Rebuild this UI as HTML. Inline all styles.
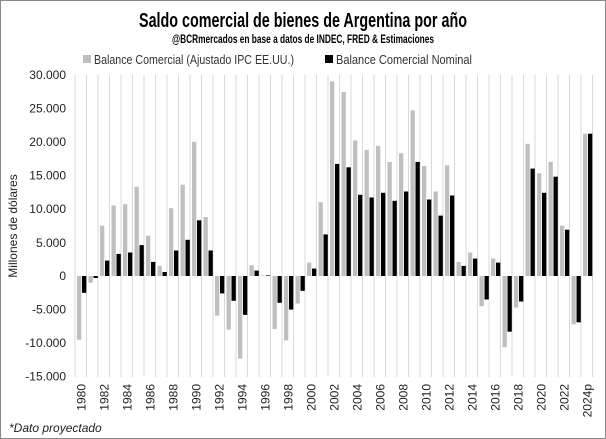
<!DOCTYPE html>
<html><head><meta charset="utf-8"><style>
html,body{margin:0;padding:0;background:#fff;}
svg{display:block;font-family:"Liberation Sans",sans-serif;}
</style></head><body>
<svg width="606" height="439" viewBox="0 0 606 439" xmlns="http://www.w3.org/2000/svg">
<rect x="0.5" y="0.5" width="605" height="438" fill="#fff" stroke="#888"/>
<text x="303" y="27" text-anchor="middle" font-family="Liberation Sans Narrow, Liberation Sans, sans-serif" font-weight="bold" font-size="20" textLength="328" lengthAdjust="spacingAndGlyphs">Saldo comercial de bienes de Argentina por año</text>
<text x="303" y="43" text-anchor="middle" font-family="Liberation Sans Narrow, Liberation Sans, sans-serif" font-weight="bold" font-size="11.5" textLength="262" lengthAdjust="spacingAndGlyphs">@BCRmercados en base a datos de INDEC, FRED &amp; Estimaciones</text>
<rect x="83" y="55" width="8" height="8" fill="#bfbfbf"/>
<text x="94" y="64" font-size="13" fill="#333" textLength="200" lengthAdjust="spacingAndGlyphs">Balance Comercial (Ajustado IPC EE.UU.)</text>
<rect x="325" y="55" width="8" height="8" fill="#000"/>
<text x="336" y="64" font-size="13" fill="#333" textLength="136" lengthAdjust="spacingAndGlyphs">Balance Comercial Nominal</text>
<g stroke="#d9d9d9" stroke-width="1">
<path d="M75 75V377M86.5 75V377M98 75V377M109.5 75V377M121 75V377M132.5 75V377M144 75V377M155.5 75V377M167 75V377M178.5 75V377M190 75V377M201.5 75V377M213 75V377M224.5 75V377M236 75V377M247.5 75V377M259 75V377M270.5 75V377M282 75V377M293.5 75V377M305 75V377M316.5 75V377M328 75V377M339.5 75V377M351 75V377M362.5 75V377M374 75V377M385.5 75V377M397 75V377M408.5 75V377M420 75V377M431.5 75V377M443 75V377M454.5 75V377M466 75V377M477.5 75V377M489 75V377M500.5 75V377M512 75V377M523.5 75V377M535 75V377M546.5 75V377M558 75V377M569.5 75V377M581 75V377M592.5 75V377"/>
</g>
<g font-size="12" fill="#222" text-anchor="end">
<text x="66" y="79">30.000</text><text x="66" y="112.6">25.000</text><text x="66" y="146.1">20.000</text><text x="66" y="179.7">15.000</text><text x="66" y="213.2">10.000</text><text x="66" y="246.8">5.000</text><text x="66" y="280">0</text><text x="66" y="313.6">-5.000</text><text x="66" y="347.1">-10.000</text><text x="66" y="380.7">-15.000</text>
</g>
<text transform="translate(17,226) rotate(-90)" text-anchor="middle" font-size="12" fill="#222">Millones de dólares</text>
<g>
<g transform="translate(77,276)"><rect x="0" y="0" width="4.3" height="63.7" fill="#bfbfbf"/><rect x="5" y="0" width="4.3" height="16.8"/></g>
<g transform="translate(88.5,276)"><rect x="0" y="0" width="4.3" height="6.7" fill="#bfbfbf"/><rect x="5" y="0" width="4.3" height="2"/></g>
<g transform="translate(100,276)"><rect x="0" y="-50.3" width="4.3" height="50.3" fill="#bfbfbf"/><rect x="5" y="-15.4" width="4.3" height="15.4"/></g>
<g transform="translate(111.5,276)"><rect x="0" y="-70.5" width="4.3" height="70.5" fill="#bfbfbf"/><rect x="5" y="-22.1" width="4.3" height="22.1"/></g>
<g transform="translate(123,276)"><rect x="0" y="-71.8" width="4.3" height="71.8" fill="#bfbfbf"/><rect x="5" y="-23.5" width="4.3" height="23.5"/></g>
<g transform="translate(134.5,276)"><rect x="0" y="-89.2" width="4.3" height="89.2" fill="#bfbfbf"/><rect x="5" y="-30.9" width="4.3" height="30.9"/></g>
<g transform="translate(146,276)"><rect x="0" y="-40.3" width="4.3" height="40.3" fill="#bfbfbf"/><rect x="5" y="-14.1" width="4.3" height="14.1"/></g>
<g transform="translate(157.5,276)"><rect x="0" y="-10.1" width="4.3" height="10.1" fill="#bfbfbf"/><rect x="5" y="-4" width="4.3" height="4"/></g>
<g transform="translate(169,276)"><rect x="0" y="-67.8" width="4.3" height="67.8" fill="#bfbfbf"/><rect x="5" y="-25.5" width="4.3" height="25.5"/></g>
<g transform="translate(180.5,276)"><rect x="0" y="-91.3" width="4.3" height="91.3" fill="#bfbfbf"/><rect x="5" y="-36.2" width="4.3" height="36.2"/></g>
<g transform="translate(192,276)"><rect x="0" y="-134.2" width="4.3" height="134.2" fill="#bfbfbf"/><rect x="5" y="-55.7" width="4.3" height="55.7"/></g>
<g transform="translate(203.5,276)"><rect x="0" y="-59" width="4.3" height="59" fill="#bfbfbf"/><rect x="5" y="-25.5" width="4.3" height="25.5"/></g>
<g transform="translate(215,276)"><rect x="0" y="0" width="4.3" height="39.6" fill="#bfbfbf"/><rect x="5" y="0" width="4.3" height="17.4"/></g>
<g transform="translate(226.5,276)"><rect x="0" y="0" width="4.3" height="53.7" fill="#bfbfbf"/><rect x="5" y="0" width="4.3" height="24.8"/></g>
<g transform="translate(238,276)"><rect x="0" y="0" width="4.3" height="82.5" fill="#bfbfbf"/><rect x="5" y="0" width="4.3" height="38.9"/></g>
<g transform="translate(249.5,276)"><rect x="0" y="-10.7" width="4.3" height="10.7" fill="#bfbfbf"/><rect x="5" y="-5.4" width="4.3" height="5.4"/></g>
<g transform="translate(261,276)"><rect x="0" y="-0.7" width="4.3" height="0.7" fill="#bfbfbf"/><rect x="5" y="-0.6" width="4.3" height="0.6"/></g>
<g transform="translate(272.5,276)"><rect x="0" y="0" width="4.3" height="53" fill="#bfbfbf"/><rect x="5" y="0" width="4.3" height="26.8"/></g>
<g transform="translate(284,276)"><rect x="0" y="0" width="4.3" height="64.4" fill="#bfbfbf"/><rect x="5" y="0" width="4.3" height="33.6"/></g>
<g transform="translate(295.5,276)"><rect x="0" y="0" width="4.3" height="27.5" fill="#bfbfbf"/><rect x="5" y="0" width="4.3" height="14.8"/></g>
<g transform="translate(307,276)"><rect x="0" y="-13.4" width="4.3" height="13.4" fill="#bfbfbf"/><rect x="5" y="-7.4" width="4.3" height="7.4"/></g>
<g transform="translate(318.5,276)"><rect x="0" y="-73.8" width="4.3" height="73.8" fill="#bfbfbf"/><rect x="5" y="-41.6" width="4.3" height="41.6"/></g>
<g transform="translate(330,276)"><rect x="0" y="-194.6" width="4.3" height="194.6" fill="#bfbfbf"/><rect x="5" y="-112.1" width="4.3" height="112.1"/></g>
<g transform="translate(341.5,276)"><rect x="0" y="-183.9" width="4.3" height="183.9" fill="#bfbfbf"/><rect x="5" y="-108.7" width="4.3" height="108.7"/></g>
<g transform="translate(353,276)"><rect x="0" y="-135.5" width="4.3" height="135.5" fill="#bfbfbf"/><rect x="5" y="-81.2" width="4.3" height="81.2"/></g>
<g transform="translate(364.5,276)"><rect x="0" y="-126.1" width="4.3" height="126.1" fill="#bfbfbf"/><rect x="5" y="-78.5" width="4.3" height="78.5"/></g>
<g transform="translate(376,276)"><rect x="0" y="-130.2" width="4.3" height="130.2" fill="#bfbfbf"/><rect x="5" y="-83.2" width="4.3" height="83.2"/></g>
<g transform="translate(387.5,276)"><rect x="0" y="-114.1" width="4.3" height="114.1" fill="#bfbfbf"/><rect x="5" y="-75.2" width="4.3" height="75.2"/></g>
<g transform="translate(399,276)"><rect x="0" y="-122.8" width="4.3" height="122.8" fill="#bfbfbf"/><rect x="5" y="-84.5" width="4.3" height="84.5"/></g>
<g transform="translate(410.5,276)"><rect x="0" y="-165.7" width="4.3" height="165.7" fill="#bfbfbf"/><rect x="5" y="-114.1" width="4.3" height="114.1"/></g>
<g transform="translate(422,276)"><rect x="0" y="-110" width="4.3" height="110" fill="#bfbfbf"/><rect x="5" y="-76.5" width="4.3" height="76.5"/></g>
<g transform="translate(433.5,276)"><rect x="0" y="-84.5" width="4.3" height="84.5" fill="#bfbfbf"/><rect x="5" y="-60.4" width="4.3" height="60.4"/></g>
<g transform="translate(445,276)"><rect x="0" y="-110.7" width="4.3" height="110.7" fill="#bfbfbf"/><rect x="5" y="-80.5" width="4.3" height="80.5"/></g>
<g transform="translate(456.5,276)"><rect x="0" y="-14.1" width="4.3" height="14.1" fill="#bfbfbf"/><rect x="5" y="-10.1" width="4.3" height="10.1"/></g>
<g transform="translate(468,276)"><rect x="0" y="-23.5" width="4.3" height="23.5" fill="#bfbfbf"/><rect x="5" y="-17.4" width="4.3" height="17.4"/></g>
<g transform="translate(479.5,276)"><rect x="0" y="0" width="4.3" height="30.2" fill="#bfbfbf"/><rect x="5" y="0" width="4.3" height="23.5"/></g>
<g transform="translate(491,276)"><rect x="0" y="-17.4" width="4.3" height="17.4" fill="#bfbfbf"/><rect x="5" y="-13.4" width="4.3" height="13.4"/></g>
<g transform="translate(502.5,276)"><rect x="0" y="0" width="4.3" height="71.1" fill="#bfbfbf"/><rect x="5" y="0" width="4.3" height="55.7"/></g>
<g transform="translate(514,276)"><rect x="0" y="0" width="4.3" height="31.5" fill="#bfbfbf"/><rect x="5" y="0" width="4.3" height="25.5"/></g>
<g transform="translate(525.5,276)"><rect x="0" y="-132.2" width="4.3" height="132.2" fill="#bfbfbf"/><rect x="5" y="-107.4" width="4.3" height="107.4"/></g>
<g transform="translate(537,276)"><rect x="0" y="-102.7" width="4.3" height="102.7" fill="#bfbfbf"/><rect x="5" y="-83.2" width="4.3" height="83.2"/></g>
<g transform="translate(548.5,276)"><rect x="0" y="-114.1" width="4.3" height="114.1" fill="#bfbfbf"/><rect x="5" y="-99.3" width="4.3" height="99.3"/></g>
<g transform="translate(560,276)"><rect x="0" y="-50.3" width="4.3" height="50.3" fill="#bfbfbf"/><rect x="5" y="-46.3" width="4.3" height="46.3"/></g>
<g transform="translate(571.5,276)"><rect x="0" y="0" width="4.3" height="48.3" fill="#bfbfbf"/><rect x="5" y="0" width="4.3" height="46.3"/></g>
<g transform="translate(583,276)"><rect x="0" y="-142.3" width="4.3" height="142.3" fill="#bfbfbf"/><rect x="5" y="-142.3" width="4.3" height="142.3"/></g>
</g>
<g font-size="12" fill="#222" text-anchor="end">
<text transform="translate(81.3,384) rotate(-90)" dy="0.35em">1980</text>
<text transform="translate(104.3,384) rotate(-90)" dy="0.35em">1982</text>
<text transform="translate(127.3,384) rotate(-90)" dy="0.35em">1984</text>
<text transform="translate(150.3,384) rotate(-90)" dy="0.35em">1986</text>
<text transform="translate(173.3,384) rotate(-90)" dy="0.35em">1988</text>
<text transform="translate(196.3,384) rotate(-90)" dy="0.35em">1990</text>
<text transform="translate(219.3,384) rotate(-90)" dy="0.35em">1992</text>
<text transform="translate(242.3,384) rotate(-90)" dy="0.35em">1994</text>
<text transform="translate(265.3,384) rotate(-90)" dy="0.35em">1996</text>
<text transform="translate(288.3,384) rotate(-90)" dy="0.35em">1998</text>
<text transform="translate(311.3,384) rotate(-90)" dy="0.35em">2000</text>
<text transform="translate(334.3,384) rotate(-90)" dy="0.35em">2002</text>
<text transform="translate(357.3,384) rotate(-90)" dy="0.35em">2004</text>
<text transform="translate(380.3,384) rotate(-90)" dy="0.35em">2006</text>
<text transform="translate(403.3,384) rotate(-90)" dy="0.35em">2008</text>
<text transform="translate(426.3,384) rotate(-90)" dy="0.35em">2010</text>
<text transform="translate(449.3,384) rotate(-90)" dy="0.35em">2012</text>
<text transform="translate(472.3,384) rotate(-90)" dy="0.35em">2014</text>
<text transform="translate(495.3,384) rotate(-90)" dy="0.35em">2016</text>
<text transform="translate(518.3,384) rotate(-90)" dy="0.35em">2018</text>
<text transform="translate(541.3,384) rotate(-90)" dy="0.35em">2020</text>
<text transform="translate(564.3,384) rotate(-90)" dy="0.35em">2022</text>
<text transform="translate(587.3,384) rotate(-90)" dy="0.35em">2024p</text>
</g>
<text x="9" y="432" font-size="12" font-style="italic" fill="#222">*Dato proyectado</text>
</svg>
</body></html>
